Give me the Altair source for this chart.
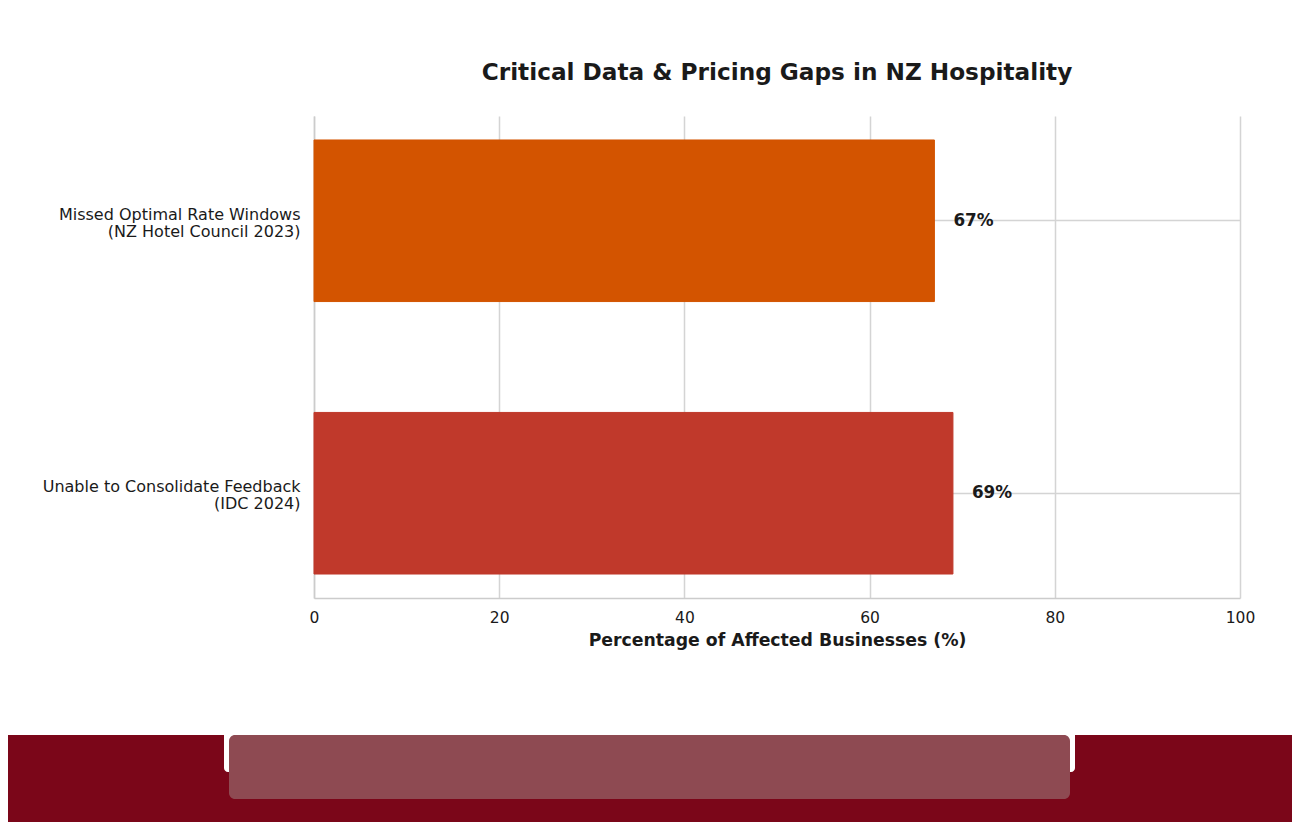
import altair as alt
import pandas as pd

# values
categories = [
    "Missed Optimal Rate Windows|(NZ Hotel Council 2023)",
    "Unable to Consolidate Feedback|(IDC 2024)",
]
percentages = [67, 69]
bar_colors = ["#d35400", "#c0392b"]
value_labels = ["67%", "69%"]
x_ticks = [0, 20, 40, 60, 80, 100]

FONT = "DejaVu Sans"

data = pd.DataFrame({
    "category": categories,
    "pct": percentages,
    "color": bar_colors,
    "label": value_labels,
})

base = alt.Chart(data)

y_enc = alt.Y(
    "category:N",
    sort=categories,
    title=None,
    scale=alt.Scale(paddingInner=0.407, paddingOuter=0.088),
    axis=alt.Axis(
        labelExpr="split(datum.label, '|')",
        labelFont=FONT,
        labelFontSize=16,
        labelColor="#1a1a1a",
        labelPadding=14,
        labelLineHeight=17,
        labelLimit=0,
        labelOffset=-6,
        ticks=False,
        grid=True,
        gridColor="#d4d4d4",
        gridWidth=1.5,
        bandPosition=0.5,
        tickExtra=False,
        domainColor="#cccccc",
        domainWidth=1.5,
    ),
)

bars = base.mark_bar(strokeWidth=1).encode(
    x=alt.X(
        "pct:Q",
        scale=alt.Scale(domain=[0, 100], nice=False),
        title="Percentage of Affected Businesses (%)",
        axis=alt.Axis(
            values=x_ticks,
            labelFont=FONT,
            labelFontSize=15.5,
            labelColor="#1a1a1a",
            labelPadding=12,
            labelFlush=False,
            ticks=False,
            gridColor="#d4d4d4",
            gridWidth=1.5,
            domainColor="#cccccc",
            domainWidth=1.5,
            titleFont=FONT,
            titleFontSize=17.3,
            titleFontWeight="bold",
            titleColor="#1a1a1a",
            titlePadding=6,
        ),
    ),
    y=y_enc,
    color=alt.Color("color:N", scale=None),
    stroke=alt.Color("color:N", scale=None),
)

labels = base.mark_text(
    align="left", baseline="middle", dx=19, font=FONT, fontSize=16.8,
    fontWeight="bold", color="#1a1a1a",
).encode(
    x="pct:Q",
    y=alt.Y("category:N", sort=categories),
    text="label:N",
)

# page footer band seen below the chart in the reference
footer_src = alt.Chart(pd.DataFrame({"k": [0]}))
footer_dark = footer_src.mark_rect(color="#7b0619").encode(
    x=alt.value(-320), x2=alt.value(990), y=alt.value(619), y2=alt.value(730)
)
footer_gap = footer_src.mark_rect(color="white", cornerRadius=4).encode(
    x=alt.value(-90), x2=alt.value(761), y=alt.value(612), y2=alt.value(656)
)
footer_tab = footer_src.mark_rect(color="#8e4a52", cornerRadius=6).encode(
    x=alt.value(-85), x2=alt.value(756), y=alt.value(619), y2=alt.value(683)
)

chart = alt.layer(bars, labels, footer_dark, footer_gap, footer_tab).properties(
    width=926,
    height=482,
    background="white",
    title=alt.TitleParams(
        "Critical Data & Pricing Gaps in NZ Hospitality",
        font=FONT,
        fontSize=23.2,
        fontWeight="bold",
        color="#1a1a1a",
        anchor="middle",
        offset=31,
    ),
    autosize=alt.AutoSizeParams(type="none"),
    padding={"left": 306, "top": 108, "right": 52, "bottom": 224},
).configure_view(
    strokeWidth=0
)

chart.save("out.html", embed_options={"renderer": "svg", "actions": False})
